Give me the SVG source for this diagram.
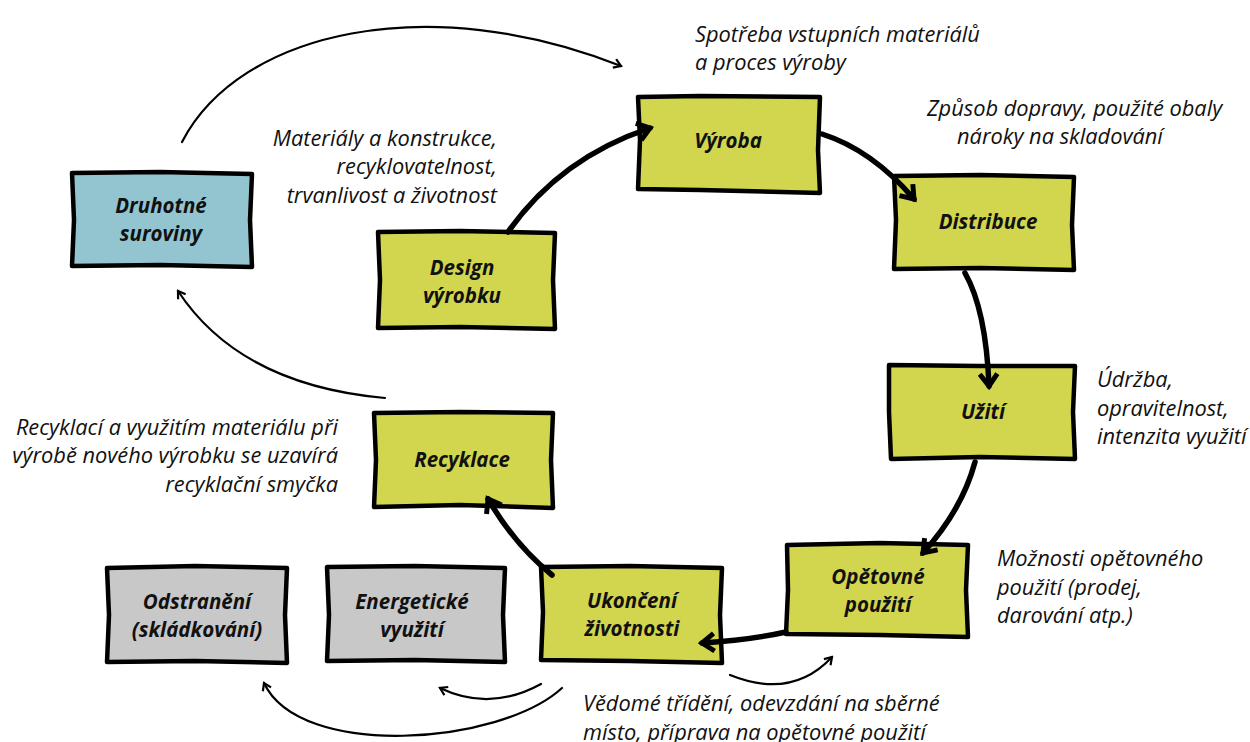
<svg xmlns="http://www.w3.org/2000/svg" width="1250" height="742" viewBox="0 0 1250 742">
<defs>
<style>
.box{stroke:#000;stroke-width:4.5;stroke-linejoin:round}
.g{fill:#D2D64E}.b{fill:#93C5D0}.gr{fill:#C8C8C8}
.lbl{font-family:"Open Sans","Noto Sans","DejaVu Sans",sans-serif;font-weight:bold;font-style:italic;font-size:20.5px;text-anchor:middle;fill:#111}
.note{font-family:"Open Sans","Noto Sans","DejaVu Sans",sans-serif;font-style:italic;font-size:21.8px;fill:#111}
.thick{fill:none;stroke:#000;stroke-width:5.5;stroke-linecap:round;marker-end:url(#big)}
.thin{fill:none;stroke:#000;stroke-width:2.2;stroke-linecap:round;marker-end:url(#small)}
</style>
<marker id="big" viewBox="0 0 20 20" refX="15" refY="10" markerWidth="22" markerHeight="22" markerUnits="userSpaceOnUse" orient="auto">
<path d="M4,2 L15,10 L4,18" fill="none" stroke="#000" stroke-width="4.5" stroke-linejoin="miter"/>
</marker>
<marker id="small" viewBox="0 0 12 12" refX="10" refY="6" markerWidth="12" markerHeight="12" markerUnits="userSpaceOnUse" orient="auto">
<path d="M3,1.5 L10,6 L3,10.5" fill="none" stroke="#000" stroke-width="2.2"/>
</marker>
</defs>
<rect width="1250" height="742" fill="#fff"/>

<g id="vyroba">
<path class="box g" d="M638,97 L700,96 L820,97 L818,150 L820,193 L700,190 L638,189 L640,140 Z"/>
<text class="lbl" x="728" y="148">Výroba</text>
</g>
<g id="distribuce">
<path class="box g" d="M894,176 L980,175 L1074,177 L1072,225 L1074,270 L980,268 L894,269 L896,220 Z"/>
<text class="lbl" x="988" y="229">Distribuce</text>
</g>
<g id="uziti">
<path class="box g" d="M889,365 L980,366 L1075,366 L1073,412 L1075,459 L980,457 L891,459 L889,412 Z"/>
<text class="lbl" x="983" y="419">Užití</text>
</g>
<g id="opetovne">
<path class="box g" d="M787,545 L880,543 L968,545 L966,590 L968,637 L880,635 L786,634 L788,590 Z"/>
<text class="lbl" x="878" y="584">Opětovné</text>
<text class="lbl" x="878" y="612">použití</text>
</g>
<g id="ukonceni">
<path class="box g" d="M541,567 L630,566 L722,568 L720,615 L722,663 L630,661 L541,660 L543,612 Z"/>
<text class="lbl" x="632" y="608">Ukončení</text>
<text class="lbl" x="632" y="636">životnosti</text>
</g>
<g id="recyklace">
<path class="box g" d="M374,413 L460,412 L553,413 L551,460 L553,508 L460,505 L374,507 L376,460 Z"/>
<text class="lbl" x="462" y="467">Recyklace</text>
</g>
<g id="design">
<path class="box g" d="M378,232 L460,231 L555,233 L553,280 L555,329 L460,327 L378,328 L380,280 Z"/>
<text class="lbl" x="462" y="275">Design</text>
<text class="lbl" x="462" y="303">výrobku</text>
</g>
<g id="druhotne">
<path class="box b" d="M72,173 L160,172 L252,174 L250,220 L252,267 L160,265 L72,266 L74,220 Z"/>
<text class="lbl" x="161" y="213">Druhotné</text>
<text class="lbl" x="161" y="241">suroviny</text>
</g>
<g id="odstraneni">
<path class="box gr" d="M107,568 L195,566 L287,568 L285,615 L287,663 L195,661 L107,662 L109,615 Z"/>
<text class="lbl" x="197" y="609">Odstranění</text>
<text class="lbl" x="197" y="637">(skládkování)</text>
</g>
<g id="energeticke">
<path class="box gr" d="M327,567 L415,566 L505,568 L503,615 L505,662 L415,660 L327,661 L329,615 Z"/>
<text class="lbl" x="412" y="609">Energetické</text>
<text class="lbl" x="412" y="637">využití</text>
</g>

<g id="connectors">
<path class="thick" d="M508,232 Q560,158 650,128"/>
<path class="thick" d="M822,134 Q872,150 914,199"/>
<path class="thick" d="M965,273 Q986,310 989,386"/>
<path class="thick" d="M975,462 Q962,510 923,553"/>
<path class="thick" d="M786,632 Q750,640 702,643"/>
<path class="thick" d="M552,575 Q515,545 488,499"/>
<path class="thin" d="M385,398 Q240,385 178,291"/>
<path class="thin" d="M182,142 C240,30 430,-10 621,66"/>
<path class="thin" d="M730,675 Q792,700 832,657"/>
<path class="thin" d="M541,684 Q490,712 440,688"/>
<path class="thin" d="M562,688 C500,745 300,760 264,683"/>
</g>

<g id="notes">
<text class="note" x="695" y="42">Spotřeba vstupních materiálů</text>
<text class="note" x="695" y="70">a proces výroby</text>
<text class="note" x="927" y="116">Způsob dopravy, použité obaly</text>
<text class="note" x="957" y="144">nároky na skladování</text>
<text class="note" x="497" y="146" text-anchor="end">Materiály a konstrukce,</text>
<text class="note" x="497" y="174" text-anchor="end">recyklovatelnost,</text>
<text class="note" x="497" y="203" text-anchor="end">trvanlivost a životnost</text>
<text class="note" x="1097" y="387">Údržba,</text>
<text class="note" x="1097" y="416">opravitelnost,</text>
<text class="note" x="1097" y="444">intenzita využití</text>
<text class="note" x="338" y="435" text-anchor="end">Recyklací a využitím materiálu při</text>
<text class="note" x="338" y="463" text-anchor="end">výrobě nového výrobku se uzavírá</text>
<text class="note" x="338" y="492" text-anchor="end">recyklační smyčka</text>
<text class="note" x="997" y="566">Možnosti opětovného</text>
<text class="note" x="997" y="595">použití (prodej,</text>
<text class="note" x="997" y="623">darování atp.)</text>
<text class="note" x="583" y="711">Vědomé třídění, odevzdání na sběrné</text>
<text class="note" x="583" y="740">místo, příprava na opětovné použití</text>
</g>
</svg>
